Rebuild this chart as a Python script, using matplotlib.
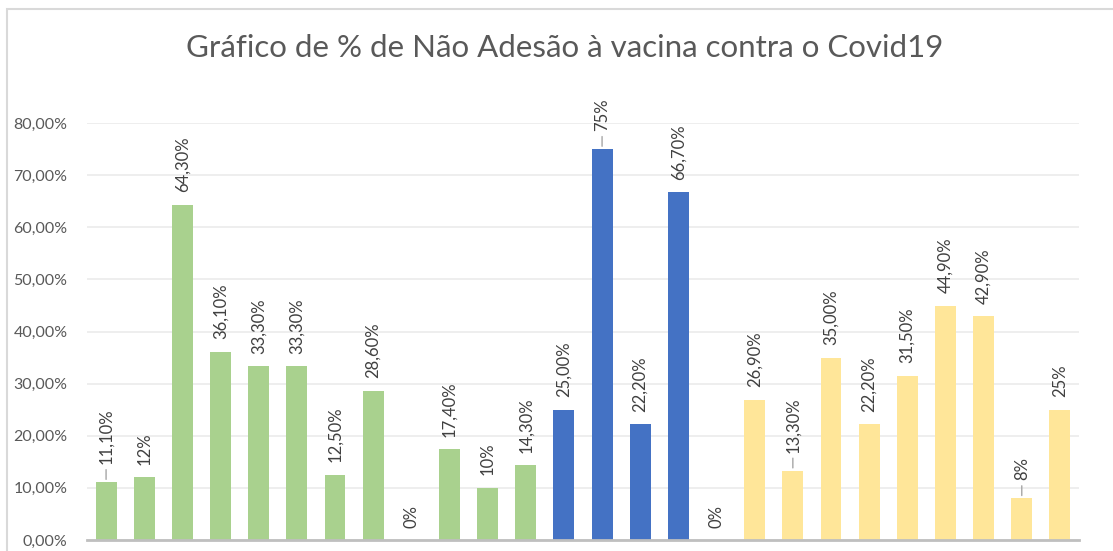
import matplotlib
matplotlib.use("Agg")
import matplotlib.pyplot as plt
from matplotlib.patches import Rectangle

# data
values = [11.1, 12.0, 64.3, 36.1, 33.3, 33.3, 12.5, 28.6, 0.0, 17.4, 10.0, 14.3,
          25.0, 75.0, 22.2, 66.7, 0.0,
          26.9, 13.3, 35.0, 22.2, 31.5, 44.9, 42.9, 8.0, 25.0]
labels = ["11,10%", "12%", "64,30%", "36,10%", "33,30%", "33,30%", "12,50%", "28,60%",
          "0%", "17,40%", "10%", "14,30%",
          "25,00%", "75%", "22,20%", "66,70%", "0%",
          "26,90%", "13,30%", "35,00%", "22,20%", "31,50%", "44,90%", "42,90%", "8%", "25%"]
groups = ["g"] * 12 + ["b"] * 5 + ["y"] * 9
leader = [0, 13, 18, 24]   # labels that were dragged up in the original (with leader line)
yticks = [0, 10, 20, 30, 40, 50, 60, 70, 80]

group_colors = {"g": "#A9D18E", "b": "#4472C4", "y": "#FFE699"}

plt.rcParams['font.family'] = ['Lato', 'DejaVu Sans']

fig = plt.figure(figsize=(11.13, 5.51), dpi=100)
ax = fig.add_axes([87 / 1113, 1 - 540 / 551, (1079 - 87) / 1113, (540 - 123) / 551])

# chart frame (only top and left visible in the crop)
fig.patches.append(Rectangle((7 / 1113, -0.2), 1.2, 1.2 - 9 / 551,
                             transform=fig.transFigure, fill=False,
                             edgecolor="#D9D9D9", linewidth=1.5))

x = list(range(len(values)))
cols = [group_colors[g] for g in groups]
ax.bar(x, values, width=0.55, color=cols, zorder=3)

for i, (v, t) in enumerate(zip(values, labels)):
    if i in leader:
        ax.annotate(t, xy=(i, v), xytext=(0, 13), textcoords="offset points",
                    rotation=90, ha="center", va="bottom", fontsize=12, color="#404040",
                    arrowprops=dict(arrowstyle="-", color="#A6A6A6", lw=1,
                                    shrinkA=2, shrinkB=2))
    else:
        ax.annotate(t, xy=(i, v), xytext=(0, 9), textcoords="offset points",
                    rotation=90, ha="center", va="bottom", fontsize=12, color="#404040")

ax.set_xlim(-0.5, len(values) - 0.5)
ax.set_ylim(0, 80)
ax.set_yticks(yticks)
ax.set_yticklabels(["%d,00%%" % t for t in yticks], fontsize=11.5, color="#595959")
ax.set_xticks([])
ax.tick_params(axis="y", length=0, pad=14)

ax.grid(axis="y", color="#EBEBEB", linewidth=1.2, zorder=0)
for s in ["top", "right", "left"]:
    ax.spines[s].set_visible(False)
ax.spines["bottom"].set_color("#BFBFBF")
ax.spines["bottom"].set_linewidth(2)
ax.spines["bottom"].set_zorder(4)

fig.text(0.5076, 1 - 48 / 551, "Gráfico de % de Não Adesão à vacina contra o Covid19",
         ha="center", va="center", fontsize=22.5, color="#595959")

fig.savefig("out.png", dpi=100)
